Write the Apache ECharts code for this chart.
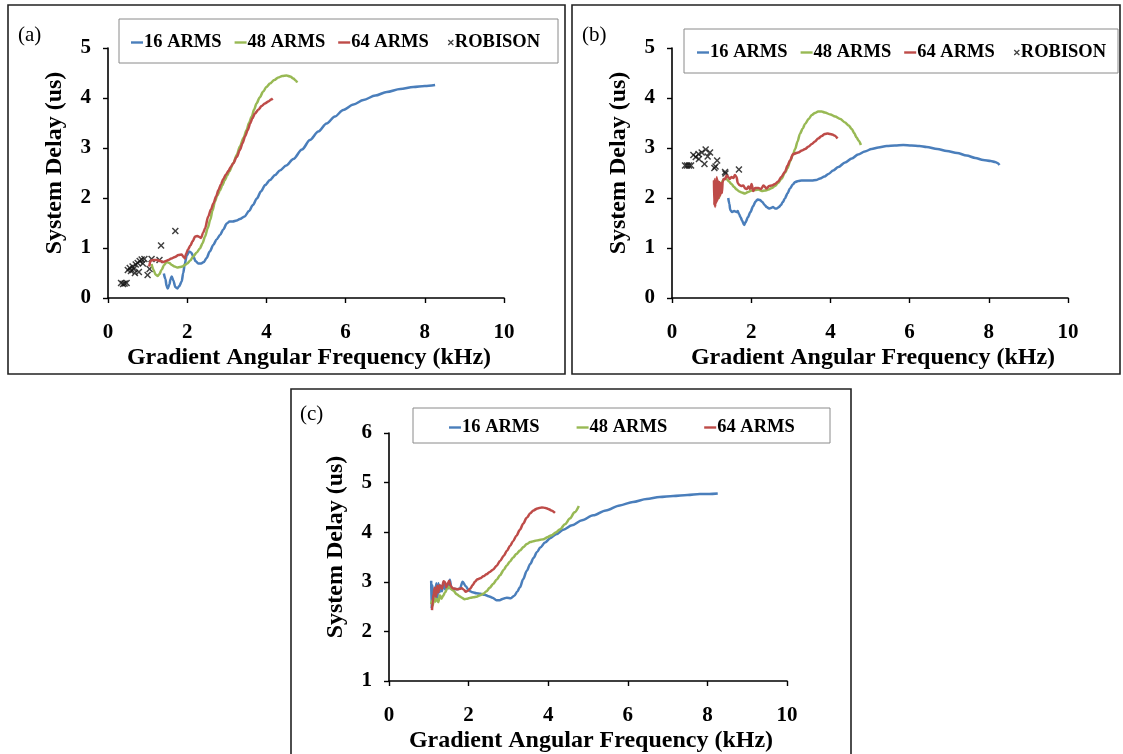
<!DOCTYPE html>
<html>
<head>
<meta charset="utf-8">
<title>System Delay vs Gradient Angular Frequency</title>
<script src="https://cdn.jsdelivr.net/npm/echarts@6/dist/echarts.min.js"></script>
<style>
  html, body { margin: 0; padding: 0; background: #ffffff; }
  #chart { width: 1123px; height: 754px; }
</style>
</head>
<body>
<div id="chart"></div>
<script>
// ---- series names ----
const seriesNames = ['16 ARMS', '48 ARMS', '64 ARMS', 'ROBISON'];
const panelLabels = ['(a)', '(b)', '(c)'];
const xAxisTitle = 'Gradient Angular Frequency (kHz)';
const yAxisTitle = 'System Delay (us)';

// axis ranges [min, max, interval]
const xRange = [0, 10, 2];
const yRangeAB = [0, 5, 1];
const yRangeC = [1, 6, 1];

// ---- panel (a) : [frequency kHz, delay us] ----
const a16 = [[1.41,0.49],[1.45,0.38],[1.48,0.24],[1.51,0.19],[1.55,0.27],[1.58,0.38],[1.61,0.43],[1.65,0.35],[1.70,0.22],[1.75,0.19],[1.80,0.24],[1.86,0.33],[1.90,0.50],[1.94,0.69],[1.99,0.85],[2.05,0.93],[2.10,0.91],[2.15,0.84],[2.21,0.74],[2.28,0.69],[2.35,0.69],[2.42,0.72],[2.49,0.80],[2.57,0.93],[2.66,1.06],[2.74,1.17],[2.83,1.26],[2.91,1.37],[3.00,1.49],[3.07,1.53],[3.15,1.53],[3.25,1.55],[3.33,1.58],[3.45,1.63],[3.56,1.74],[3.66,1.86],[3.76,1.99],[3.86,2.13],[3.97,2.26],[4.09,2.36],[4.22,2.46],[4.34,2.55],[4.50,2.65],[4.68,2.78],[4.90,2.97],[5.10,3.16],[5.31,3.33],[5.52,3.49],[5.73,3.63],[5.94,3.76],[6.20,3.87],[6.45,3.96],[6.75,4.05],[7.04,4.12],[7.38,4.18],[7.71,4.22],[8.00,4.24],[8.26,4.26]];
const a48 = [[1.10,0.68],[1.15,0.56],[1.20,0.47],[1.25,0.44],[1.30,0.48],[1.35,0.56],[1.42,0.66],[1.48,0.72],[1.55,0.70],[1.61,0.66],[1.68,0.63],[1.75,0.61],[1.82,0.62],[1.88,0.63],[1.94,0.66],[2.00,0.69],[2.08,0.75],[2.15,0.83],[2.24,0.91],[2.32,0.99],[2.39,1.10],[2.45,1.23],[2.52,1.40],[2.58,1.56],[2.64,1.75],[2.70,1.93],[2.76,2.05],[2.83,2.16],[2.89,2.26],[2.95,2.36],[3.01,2.45],[3.06,2.53],[3.16,2.69],[3.25,2.86],[3.33,3.03],[3.42,3.20],[3.50,3.36],[3.56,3.50],[3.63,3.63],[3.69,3.77],[3.75,3.89],[3.83,4.01],[3.92,4.13],[4.00,4.22],[4.09,4.29],[4.20,4.36],[4.30,4.41],[4.40,4.44],[4.51,4.45],[4.60,4.43],[4.68,4.39],[4.74,4.35],[4.78,4.31]];
const a64 = [[1.04,0.63],[1.08,0.75],[1.15,0.76],[1.23,0.76],[1.32,0.74],[1.40,0.72],[1.46,0.74],[1.52,0.76],[1.60,0.79],[1.69,0.82],[1.78,0.86],[1.86,0.87],[1.91,0.82],[1.94,0.79],[1.97,0.88],[2.02,0.97],[2.08,1.05],[2.14,1.14],[2.20,1.23],[2.26,1.24],[2.31,1.22],[2.35,1.20],[2.40,1.30],[2.45,1.39],[2.53,1.63],[2.60,1.77],[2.66,1.89],[2.73,2.03],[2.79,2.16],[2.85,2.27],[2.91,2.38],[2.98,2.47],[3.04,2.54],[3.10,2.62],[3.16,2.69],[3.25,2.82],[3.33,2.96],[3.40,3.10],[3.46,3.23],[3.53,3.36],[3.59,3.49],[3.65,3.60],[3.71,3.69],[3.80,3.77],[3.88,3.84],[3.96,3.89],[4.05,3.93],[4.12,3.97],[4.16,3.99]];
const aRobison = [[0.33,0.30],[0.38,0.28],[0.42,0.29],[0.47,0.30],[0.50,0.56],[0.55,0.60],[0.58,0.54],[0.62,0.63],[0.65,0.58],[0.68,0.50],[0.70,0.67],[0.75,0.70],[0.78,0.52],[0.80,0.74],[0.85,0.77],[0.88,0.69],[0.92,0.78],[1.00,0.46],[1.05,0.58],[1.10,0.78],[1.30,0.76],[1.34,1.05],[1.70,1.34]];

// ---- panel (b) ----
const b16 = [[1.42,2.00],[1.45,1.88],[1.47,1.76],[1.52,1.72],[1.57,1.74],[1.63,1.72],[1.66,1.74],[1.69,1.68],[1.73,1.62],[1.77,1.55],[1.82,1.46],[1.86,1.52],[1.92,1.62],[1.98,1.72],[2.05,1.84],[2.11,1.93],[2.16,1.97],[2.22,1.96],[2.28,1.92],[2.34,1.86],[2.39,1.82],[2.45,1.79],[2.50,1.80],[2.55,1.82],[2.60,1.79],[2.65,1.79],[2.70,1.82],[2.75,1.86],[2.80,1.92],[2.85,1.99],[2.92,2.10],[2.98,2.19],[3.05,2.27],[3.11,2.32],[3.19,2.34],[3.27,2.35],[3.40,2.35],[3.53,2.35],[3.64,2.36],[3.74,2.39],[3.85,2.43],[3.95,2.48],[4.07,2.55],[4.20,2.62],[4.37,2.71],[4.54,2.79],[4.70,2.87],[4.87,2.93],[5.04,2.98],[5.21,3.01],[5.42,3.04],[5.63,3.05],[5.84,3.06],[6.05,3.05],[6.25,3.04],[6.43,3.02],[6.70,2.98],[6.94,2.94],[7.20,2.90],[7.44,2.85],[7.66,2.80],[7.86,2.76],[8.05,2.74],[8.16,2.72],[8.22,2.70],[8.27,2.66]];
const b48 = [[1.08,2.35],[1.09,2.05],[1.11,2.25],[1.14,2.28],[1.17,2.20],[1.19,2.00],[1.22,2.20],[1.26,2.32],[1.32,2.38],[1.38,2.38],[1.44,2.33],[1.50,2.28],[1.57,2.22],[1.63,2.17],[1.70,2.13],[1.76,2.11],[1.84,2.09],[1.92,2.12],[2.01,2.15],[2.10,2.16],[2.18,2.17],[2.27,2.14],[2.35,2.15],[2.44,2.17],[2.52,2.20],[2.60,2.24],[2.68,2.30],[2.76,2.38],[2.85,2.50],[2.92,2.60],[2.98,2.73],[3.05,2.86],[3.11,2.98],[3.17,3.13],[3.23,3.28],[3.30,3.39],[3.36,3.48],[3.45,3.58],[3.53,3.66],[3.61,3.70],[3.69,3.73],[3.78,3.73],[3.86,3.71],[4.00,3.67],[4.12,3.63],[4.25,3.58],[4.37,3.51],[4.46,3.45],[4.54,3.38],[4.60,3.30],[4.66,3.21],[4.72,3.14],[4.77,3.06]];
const b64 = [[1.06,2.35],[1.07,1.85],[1.08,2.38],[1.09,1.82],[1.10,2.30],[1.12,1.90],[1.13,2.42],[1.15,1.95],[1.16,2.35],[1.18,2.00],[1.20,2.32],[1.22,2.05],[1.24,2.30],[1.26,2.10],[1.28,2.32],[1.30,2.38],[1.34,2.38],[1.38,2.45],[1.42,2.42],[1.46,2.38],[1.50,2.42],[1.55,2.40],[1.59,2.46],[1.63,2.42],[1.66,2.30],[1.70,2.26],[1.75,2.24],[1.80,2.25],[1.85,2.19],[1.89,2.18],[1.93,2.23],[1.97,2.18],[2.01,2.28],[2.05,2.14],[2.10,2.20],[2.18,2.20],[2.25,2.18],[2.31,2.25],[2.39,2.19],[2.45,2.24],[2.52,2.25],[2.60,2.28],[2.68,2.33],[2.76,2.42],[2.85,2.52],[2.92,2.65],[2.98,2.75],[3.06,2.88],[3.19,2.91],[3.28,2.95],[3.36,2.98],[3.45,3.03],[3.53,3.08],[3.61,3.13],[3.69,3.19],[3.78,3.24],[3.86,3.28],[3.93,3.29],[3.99,3.28],[4.05,3.27],[4.10,3.25],[4.18,3.19]];
const bRobison = [[0.33,2.65],[0.38,2.65],[0.43,2.65],[0.48,2.65],[0.54,2.86],[0.60,2.82],[0.67,2.88],[0.68,2.78],[0.75,2.91],[0.82,2.68],[0.85,2.97],[0.90,2.83],[0.96,2.91],[1.07,2.60],[1.10,2.63],[1.14,2.75],[1.34,2.52],[1.35,2.49],[1.69,2.57]];

// ---- panel (c) ----
const c16 = [[1.06,3.02],[1.07,2.45],[1.09,2.93],[1.12,2.62],[1.16,2.75],[1.19,2.97],[1.21,2.62],[1.24,2.97],[1.27,2.79],[1.30,2.92],[1.33,2.81],[1.37,2.99],[1.41,2.85],[1.45,2.90],[1.49,2.87],[1.53,3.04],[1.57,2.85],[1.63,2.86],[1.70,2.85],[1.78,2.86],[1.85,3.00],[1.93,2.91],[2.01,2.82],[2.10,2.79],[2.20,2.77],[2.30,2.76],[2.40,2.74],[2.50,2.71],[2.60,2.68],[2.70,2.63],[2.78,2.63],[2.87,2.66],[2.96,2.68],[3.06,2.67],[3.15,2.72],[3.22,2.80],[3.29,2.89],[3.37,3.05],[3.46,3.22],[3.55,3.36],[3.63,3.48],[3.72,3.60],[3.80,3.69],[3.92,3.79],[4.05,3.88],[4.20,3.96],[4.38,4.05],[4.60,4.14],[4.85,4.24],[5.13,4.34],[5.45,4.44],[5.80,4.54],[6.13,4.61],[6.47,4.67],[6.80,4.71],[7.14,4.73],[7.50,4.75],[7.81,4.77],[8.05,4.77],[8.26,4.78]];
const c48 = [[1.06,2.55],[1.08,2.62],[1.10,2.52],[1.13,2.68],[1.16,2.60],[1.20,2.66],[1.24,2.59],[1.28,2.73],[1.32,2.66],[1.36,2.72],[1.41,2.79],[1.46,2.86],[1.50,2.90],[1.55,2.86],[1.62,2.82],[1.70,2.75],[1.77,2.71],[1.83,2.68],[1.90,2.65],[1.97,2.66],[2.05,2.68],[2.12,2.69],[2.20,2.70],[2.29,2.73],[2.37,2.76],[2.45,2.81],[2.53,2.88],[2.62,2.96],[2.70,3.04],[2.79,3.13],[2.88,3.24],[2.96,3.33],[3.04,3.41],[3.12,3.49],[3.20,3.56],[3.29,3.63],[3.38,3.70],[3.46,3.76],[3.55,3.80],[3.63,3.82],[3.75,3.84],[3.88,3.86],[3.98,3.90],[4.09,3.94],[4.20,4.00],[4.30,4.06],[4.42,4.16],[4.55,4.28],[4.66,4.40],[4.77,4.53]];
const c64 = [[1.08,2.43],[1.10,2.60],[1.12,2.75],[1.15,2.88],[1.18,2.70],[1.21,2.92],[1.24,2.79],[1.27,2.93],[1.30,2.91],[1.33,2.86],[1.37,3.01],[1.41,2.99],[1.44,2.89],[1.47,2.95],[1.51,3.02],[1.55,2.92],[1.60,2.87],[1.66,2.86],[1.72,2.85],[1.78,2.86],[1.83,2.87],[1.88,2.84],[1.93,2.80],[1.98,2.82],[2.04,2.86],[2.10,2.93],[2.16,3.00],[2.22,3.05],[2.29,3.07],[2.37,3.11],[2.45,3.15],[2.53,3.20],[2.62,3.25],[2.70,3.32],[2.79,3.42],[2.88,3.52],[2.96,3.62],[3.04,3.72],[3.12,3.82],[3.20,3.93],[3.29,4.05],[3.37,4.17],[3.46,4.29],[3.55,4.38],[3.63,4.44],[3.73,4.48],[3.84,4.50],[3.93,4.49],[4.00,4.47],[4.08,4.44],[4.17,4.39]];

// ---- styling ----
const COLORS = { '16 ARMS': '#4A7EBB', '48 ARMS': '#98B954', '64 ARMS': '#BE4B48', 'ROBISON': '#111111' };
const SERIF = '"Liberation Serif", "Times New Roman", serif';
const CROSS = 'path://M1.5,0L5,3.5L8.5,0L10,1.5L6.5,5L10,8.5L8.5,10L5,6.5L1.5,10L0,8.5L3.5,5L0,1.5Z';
const LINE_ICON = 'path://M0,0L0,0M12,10L12,10M0,3.8L12,3.8L12,6.2L0,6.2Z';
const CROSS_ICON = 'path://M0,0L0,0M12,10L12,10M6.9,2L9,4.1L11.1,2L12,2.9L9.9,5L12,7.1L11.1,8L9,5.9L6.9,8L6,7.1L8.1,5L6,2.9Z';

function xAxisFor(gridIndex) {
  return {
    type: 'value', gridIndex: gridIndex,
    min: xRange[0], max: xRange[1], interval: xRange[2],
    name: xAxisTitle, nameLocation: 'middle', nameGap: 48,
    nameTextStyle: { fontFamily: SERIF, fontWeight: 'bold', fontSize: 24, color: '#000', padding: [0, 0, 0, 6] },
    axisLine: { onZero: false, lineStyle: { color: '#000', width: 1.6 } },
    axisTick: { length: 5, lineStyle: { color: '#000', width: 1.4 } },
    axisLabel: { margin: 24, fontFamily: SERIF, fontWeight: 'bold', fontSize: 21, color: '#000' },
    splitLine: { show: false }
  };
}
function yAxisFor(gridIndex, range) {
  return {
    type: 'value', gridIndex: gridIndex,
    min: range[0], max: range[1], interval: range[2],
    name: yAxisTitle, nameLocation: 'middle', nameGap: 41,
    nameTextStyle: { fontFamily: SERIF, fontWeight: 'bold', fontSize: 24, color: '#000', padding: [0, 0, 0, 20] },
    axisLine: { onZero: false, lineStyle: { color: '#000', width: 1.6 } },
    axisTick: { length: 5, lineStyle: { color: '#000', width: 1.4 } },
    axisLabel: { margin: 17, fontFamily: SERIF, fontWeight: 'bold', fontSize: 21, color: '#000' },
    splitLine: { show: false }
  };
}
function lineSeries(name, idx, data) {
  return {
    type: 'line', name: name, xAxisIndex: idx, yAxisIndex: idx, data: data,
    showSymbol: false, symbol: 'none', smooth: 0.3, smoothMonotone: 'x',
    lineStyle: { color: COLORS[name], width: 2.5 },
    itemStyle: { color: COLORS[name] },
    emphasis: { disabled: true }
  };
}
function scatterSeries(idx, data) {
  return {
    type: 'scatter', name: 'ROBISON', xAxisIndex: idx, yAxisIndex: idx, data: data,
    symbol: CROSS, symbolSize: 7,
    itemStyle: { color: COLORS['ROBISON'] },
    emphasis: { disabled: true }
  };
}
function legendFor(left, top, names, gap) {
  return {
    left: left, top: top, orient: 'horizontal', padding: 0,
    itemGap: gap, itemWidth: 12, itemHeight: 10, selectedMode: false,
    textStyle: { fontFamily: SERIF, fontWeight: 'bold', fontSize: 18.5, color: '#000', padding: [0, 0, 0, -4] },
    data: names.map(n => ({ name: n, icon: n === 'ROBISON' ? CROSS_ICON : LINE_ICON }))
  };
}

const frameStyle = { fill: 'none', stroke: '#222', lineWidth: 1.6 };
const boxStyle = { fill: 'none', stroke: '#8a8a8a', lineWidth: 1 };
const labelStyle = { fontFamily: SERIF, fontSize: 21, fill: '#000' };

const option = {
  animation: false,
  backgroundColor: '#ffffff',
  grid: [
    { left: 108, top: 48, width: 396, height: 250 },
    { left: 672, top: 48, width: 396, height: 250 },
    { left: 389, top: 433, width: 398, height: 250 }
  ],
  xAxis: [xAxisFor(0), xAxisFor(1), xAxisFor(2)],
  yAxis: [yAxisFor(0, yRangeAB), yAxisFor(1, yRangeAB), yAxisFor(2, yRangeC)],
  legend: [
    legendFor(131, 33, seriesNames, 13),
    legendFor(697, 43, seriesNames, 13),
    legendFor(449, 418, seriesNames.slice(0, 3), 37)
  ],
  graphic: [
    { type: 'rect', z: -1, shape: { x: 8, y: 5, width: 557, height: 369 }, style: frameStyle },
    { type: 'rect', z: -1, shape: { x: 572, y: 5, width: 548, height: 369 }, style: frameStyle },
    { type: 'rect', z: -1, shape: { x: 291, y: 389, width: 560, height: 372 }, style: frameStyle },
    { type: 'rect', z: -1, shape: { x: 119, y: 19, width: 439, height: 44 }, style: boxStyle },
    { type: 'rect', z: -1, shape: { x: 684, y: 29, width: 434, height: 44 }, style: boxStyle },
    { type: 'rect', z: -1, shape: { x: 413, y: 408, width: 417, height: 35 }, style: boxStyle },
    { type: 'text', left: 18, top: 25, style: Object.assign({ text: panelLabels[0] }, labelStyle) },
    { type: 'text', left: 582, top: 25, style: Object.assign({ text: panelLabels[1] }, labelStyle) },
    { type: 'text', left: 300, top: 404, style: Object.assign({ text: panelLabels[2] }, labelStyle) }
  ],
  series: [
    lineSeries('16 ARMS', 0, a16), lineSeries('48 ARMS', 0, a48), lineSeries('64 ARMS', 0, a64), scatterSeries(0, aRobison),
    lineSeries('16 ARMS', 1, b16), lineSeries('48 ARMS', 1, b48), lineSeries('64 ARMS', 1, b64), scatterSeries(1, bRobison),
    lineSeries('16 ARMS', 2, c16), lineSeries('48 ARMS', 2, c48), lineSeries('64 ARMS', 2, c64)
  ]
};

const chart = echarts.init(document.getElementById('chart'), null, { renderer: 'canvas' });
chart.setOption(option);
</script>
</body>
</html>
